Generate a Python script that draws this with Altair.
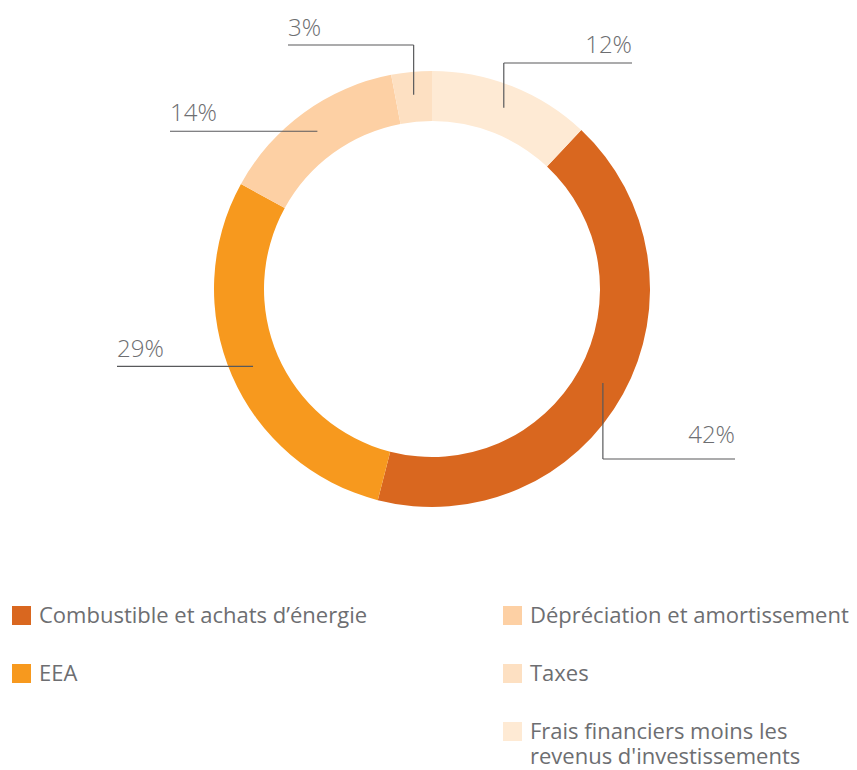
import math
import altair as alt
import pandas as pd

# ---------------- data ----------------
categories = [
    "Combustible et achats d’énergie",
    "EEA",
    "Dépréciation et amortissement",
    "Taxes",
    "Frais financiers moins les\nrevenus d'investissements",
]
values = [42, 29, 14, 3, 12]
pct_labels = ["42%", "29%", "14%", "3%", "12%"]
pie_order = [2, 3, 4, 5, 1]          # clockwise from 12 o'clock
colors = ["#D9671F", "#F7991E", "#FDD0A4", "#FDE0C2", "#FEEAD4"]

# ---------------- layout ----------------
W, H = 857, 770
CX, CY = 432, 289
R_OUT, R_IN = 218, 168
R_ANCHOR = 195
TEXT_COLOR = "#6D6E71"
LINE_COLOR = "#58595B"
FONT = "Open Sans"

# leader line layout per slice: (elbow_y or None, end_x, label side, label lift)
leader_layout = {
    "42%": (459, 735, "right", 16),
    "29%": (None, 117, "left", 9),
    "14%": (None, 170, "left", 10),
    "3%": (45, 288, "left", 9),
    "12%": (63, 632, "right", 10),
}

total = sum(values)
order_idx = sorted(range(len(values)), key=lambda i: pie_order[i])
start = {}
acc = 0
for i in order_idx:
    start[i] = acc
    acc += values[i]

arc_df = pd.DataFrame({
    "category": categories,
    "value": values,
    "order": pie_order,
    "color": colors,
})

seg_rows, lab_rows = [], []
for i, lab in enumerate(pct_labels):
    mid = (start[i] + values[i] / 2) / total * 2 * math.pi
    ax = CX + R_ANCHOR * math.sin(mid)
    ay = CY - R_ANCHOR * math.cos(mid)
    elbow_y, end_x, side, lift = leader_layout[lab]
    if elbow_y is None:
        seg_rows.append({"x": ax, "y": ay, "x2": end_x, "y2": ay})
        line_y = ay
    else:
        seg_rows.append({"x": ax, "y": ay, "x2": ax, "y2": elbow_y})
        seg_rows.append({"x": ax, "y": elbow_y, "x2": end_x, "y2": elbow_y})
        line_y = elbow_y
    lab_rows.append({"x": end_x, "y": line_y - lift, "text": lab, "side": side})

seg_df = pd.DataFrame(seg_rows)
lab_df = pd.DataFrame(lab_rows)

leg_rows = []
for i, cat in enumerate(categories):
    col = 0 if i < 2 else 1
    row = i if i < 2 else i - 2
    x0 = 12 if col == 0 else 503
    y0 = 606 + 58 * row
    leg_rows.append({"x": x0, "x2": x0 + 19, "y": y0, "y2": y0 + 19,
                     "tx": x0 + 27, "ty": y0 + 17, "text": cat, "color": colors[i]})
leg_df = pd.DataFrame(leg_rows)

px = lambda f: alt.X(f, scale=None, axis=None)
py = lambda f: alt.Y(f, scale=None, axis=None)

arcs = alt.Chart(arc_df).mark_arc(outerRadius=R_OUT, innerRadius=R_IN, stroke=None).encode(
    theta=alt.Theta("value:Q", stack=True),
    order=alt.Order("order:Q"),
    color=alt.Color("color:N", scale=None),
    x=alt.value(CX),
    y=alt.value(CY),
)

lines = alt.Chart(seg_df).mark_rule(color=LINE_COLOR, strokeWidth=1.2).encode(
    x=px("x:Q"), y=py("y:Q"), x2="x2:Q", y2="y2:Q"
)

labels_left = alt.Chart(lab_df).transform_filter("datum.side == 'left'").mark_text(
    align="left", baseline="alphabetic", font=FONT, fontSize=24, fontWeight=300, color=TEXT_COLOR
).encode(x=px("x:Q"), y=py("y:Q"), text="text:N")

labels_right = alt.Chart(lab_df).transform_filter("datum.side == 'right'").mark_text(
    align="right", baseline="alphabetic", font=FONT, fontSize=24, fontWeight=300, color=TEXT_COLOR
).encode(x=px("x:Q"), y=py("y:Q"), text="text:N")

leg_sq = alt.Chart(leg_df).mark_rect().encode(
    x=px("x:Q"), x2="x2:Q", y=py("y:Q"), y2="y2:Q",
    color=alt.Color("color:N", scale=None),
)

leg_txt = alt.Chart(leg_df).mark_text(
    align="left", baseline="alphabetic", font=FONT, fontSize=22, color=TEXT_COLOR,
    lineBreak="\n", lineHeight=25
).encode(x=px("tx:Q"), y=py("ty:Q"), text="text:N")

chart = alt.layer(arcs, lines, labels_left, labels_right, leg_sq, leg_txt).properties(
    width=W, height=H, autosize="none", padding=0
).configure_view(strokeWidth=0)

chart.save("out.html", embed_options={"renderer": "svg", "actions": False})
